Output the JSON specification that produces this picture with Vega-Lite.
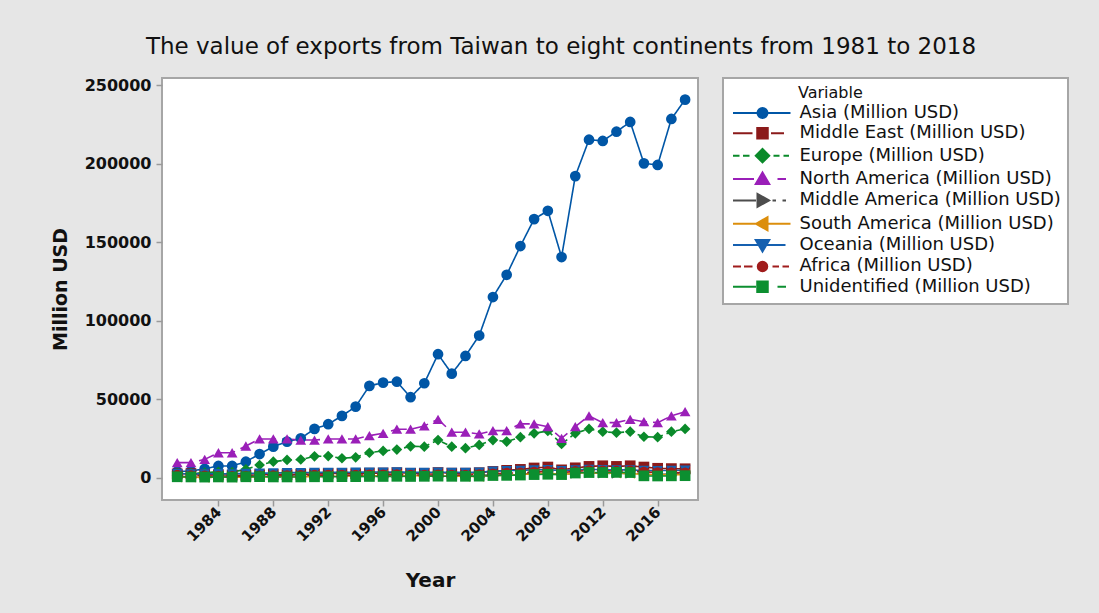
{
  "$schema": "https://vega.github.io/schema/vega-lite/v6.json",
  "width": 536,
  "height": 422,
  "autosize": {"type": "none"},
  "padding": {"left": 162, "top": 78, "right": 401, "bottom": 113},
  "background": "#e6e6e6",
  "title": {
    "text": "The value of exports from Taiwan to eight continents from 1981 to 2018",
    "font": "DejaVu Sans",
    "fontSize": 23,
    "fontWeight": "normal",
    "color": "#111111",
    "anchor": "middle",
    "frame": "group",
    "dx": 131,
    "offset": 18
  },
  "data": {
    "values": [
      {"Year": 1981, "Asia (Million USD)": 4000, "Middle East (Million USD)": 2400, "Europe (Million USD)": 3000, "North America (Million USD)": 9600, "Middle America (Million USD)": 800, "South America (Million USD)": 400, "Oceania (Million USD)": 2600, "Africa (Million USD)": 1600, "Unidentified  (Million USD)": 600},
      {"Year": 1982, "Asia (Million USD)": 4200, "Middle East (Million USD)": 2600, "Europe (Million USD)": 2800, "North America (Million USD)": 9600, "Middle America (Million USD)": 700, "South America (Million USD)": 300, "Oceania (Million USD)": 2500, "Africa (Million USD)": 1400, "Unidentified  (Million USD)": 500},
      {"Year": 1983, "Asia (Million USD)": 5700, "Middle East (Million USD)": 2100, "Europe (Million USD)": 3200, "North America (Million USD)": 11700, "Middle America (Million USD)": 600, "South America (Million USD)": 200, "Oceania (Million USD)": 2400, "Africa (Million USD)": 1200, "Unidentified  (Million USD)": 400},
      {"Year": 1984, "Asia (Million USD)": 7500, "Middle East (Million USD)": 1800, "Europe (Million USD)": 3800, "North America (Million USD)": 15900, "Middle America (Million USD)": 700, "South America (Million USD)": 300, "Oceania (Million USD)": 2600, "Africa (Million USD)": 1000, "Unidentified  (Million USD)": 500},
      {"Year": 1985, "Asia (Million USD)": 7500, "Middle East (Million USD)": 1600, "Europe (Million USD)": 3500, "North America (Million USD)": 15900, "Middle America (Million USD)": 600, "South America (Million USD)": 300, "Oceania (Million USD)": 2500, "Africa (Million USD)": 900, "Unidentified  (Million USD)": 400},
      {"Year": 1986, "Asia (Million USD)": 10200, "Middle East (Million USD)": 1500, "Europe (Million USD)": 5400, "North America (Million USD)": 20200, "Middle America (Million USD)": 700, "South America (Million USD)": 400, "Oceania (Million USD)": 2700, "Africa (Million USD)": 1000, "Unidentified  (Million USD)": 600},
      {"Year": 1987, "Asia (Million USD)": 15100, "Middle East (Million USD)": 1900, "Europe (Million USD)": 8100, "North America (Million USD)": 24700, "Middle America (Million USD)": 900, "South America (Million USD)": 500, "Oceania (Million USD)": 2900, "Africa (Million USD)": 1200, "Unidentified  (Million USD)": 700},
      {"Year": 1988, "Asia (Million USD)": 19800, "Middle East (Million USD)": 2100, "Europe (Million USD)": 10200, "North America (Million USD)": 24700, "Middle America (Million USD)": 1000, "South America (Million USD)": 600, "Oceania (Million USD)": 3000, "Africa (Million USD)": 1300, "Unidentified  (Million USD)": 500},
      {"Year": 1989, "Asia (Million USD)": 23000, "Middle East (Million USD)": 2000, "Europe (Million USD)": 11300, "North America (Million USD)": 24700, "Middle America (Million USD)": 1000, "South America (Million USD)": 600, "Oceania (Million USD)": 3200, "Africa (Million USD)": 1400, "Unidentified  (Million USD)": 500},
      {"Year": 1990, "Asia (Million USD)": 25100, "Middle East (Million USD)": 2200, "Europe (Million USD)": 11600, "North America (Million USD)": 24000, "Middle America (Million USD)": 1100, "South America (Million USD)": 600, "Oceania (Million USD)": 3300, "Africa (Million USD)": 1500, "Unidentified  (Million USD)": 500},
      {"Year": 1991, "Asia (Million USD)": 31100, "Middle East (Million USD)": 2400, "Europe (Million USD)": 13600, "North America (Million USD)": 24000, "Middle America (Million USD)": 1200, "South America (Million USD)": 800, "Oceania (Million USD)": 3400, "Africa (Million USD)": 1600, "Unidentified  (Million USD)": 600},
      {"Year": 1992, "Asia (Million USD)": 34100, "Middle East (Million USD)": 2700, "Europe (Million USD)": 13800, "North America (Million USD)": 24700, "Middle America (Million USD)": 1300, "South America (Million USD)": 900, "Oceania (Million USD)": 3400, "Africa (Million USD)": 1700, "Unidentified  (Million USD)": 600},
      {"Year": 1993, "Asia (Million USD)": 39400, "Middle East (Million USD)": 2700, "Europe (Million USD)": 12400, "North America (Million USD)": 24700, "Middle America (Million USD)": 1300, "South America (Million USD)": 1000, "Oceania (Million USD)": 3400, "Africa (Million USD)": 1700, "Unidentified  (Million USD)": 700},
      {"Year": 1994, "Asia (Million USD)": 45300, "Middle East (Million USD)": 2600, "Europe (Million USD)": 13000, "North America (Million USD)": 24700, "Middle America (Million USD)": 1300, "South America (Million USD)": 1100, "Oceania (Million USD)": 3500, "Africa (Million USD)": 1600, "Unidentified  (Million USD)": 700},
      {"Year": 1995, "Asia (Million USD)": 58500, "Middle East (Million USD)": 2900, "Europe (Million USD)": 15900, "North America (Million USD)": 26800, "Middle America (Million USD)": 1500, "South America (Million USD)": 1300, "Oceania (Million USD)": 3600, "Africa (Million USD)": 1800, "Unidentified  (Million USD)": 800},
      {"Year": 1996, "Asia (Million USD)": 60600, "Middle East (Million USD)": 3000, "Europe (Million USD)": 17100, "North America (Million USD)": 28300, "Middle America (Million USD)": 1500, "South America (Million USD)": 1300, "Oceania (Million USD)": 3600, "Africa (Million USD)": 1800, "Unidentified  (Million USD)": 800},
      {"Year": 1997, "Asia (Million USD)": 61200, "Middle East (Million USD)": 3200, "Europe (Million USD)": 17900, "North America (Million USD)": 30900, "Middle America (Million USD)": 1700, "South America (Million USD)": 1500, "Oceania (Million USD)": 3700, "Africa (Million USD)": 1900, "Unidentified  (Million USD)": 900},
      {"Year": 1998, "Asia (Million USD)": 51300, "Middle East (Million USD)": 2800, "Europe (Million USD)": 20000, "North America (Million USD)": 30900, "Middle America (Million USD)": 1600, "South America (Million USD)": 1400, "Oceania (Million USD)": 3400, "Africa (Million USD)": 1700, "Unidentified  (Million USD)": 800},
      {"Year": 1999, "Asia (Million USD)": 60200, "Middle East (Million USD)": 2800, "Europe (Million USD)": 19800, "North America (Million USD)": 33000, "Middle America (Million USD)": 1500, "South America (Million USD)": 1000, "Oceania (Million USD)": 3400, "Africa (Million USD)": 1700, "Unidentified  (Million USD)": 900},
      {"Year": 2000, "Asia (Million USD)": 78700, "Middle East (Million USD)": 3300, "Europe (Million USD)": 24000, "North America (Million USD)": 37200, "Middle America (Million USD)": 1700, "South America (Million USD)": 1200, "Oceania (Million USD)": 3600, "Africa (Million USD)": 1800, "Unidentified  (Million USD)": 1000},
      {"Year": 2001, "Asia (Million USD)": 66300, "Middle East (Million USD)": 2900, "Europe (Million USD)": 19800, "North America (Million USD)": 29000, "Middle America (Million USD)": 1500, "South America (Million USD)": 1000, "Oceania (Million USD)": 3400, "Africa (Million USD)": 1600, "Unidentified  (Million USD)": 900},
      {"Year": 2002, "Asia (Million USD)": 77600, "Middle East (Million USD)": 2900, "Europe (Million USD)": 18800, "North America (Million USD)": 29000, "Middle America (Million USD)": 1400, "South America (Million USD)": 800, "Oceania (Million USD)": 3400, "Africa (Million USD)": 1700, "Unidentified  (Million USD)": 900},
      {"Year": 2003, "Asia (Million USD)": 90600, "Middle East (Million USD)": 3200, "Europe (Million USD)": 20900, "North America (Million USD)": 27900, "Middle America (Million USD)": 1500, "South America (Million USD)": 900, "Oceania (Million USD)": 3500, "Africa (Million USD)": 2000, "Unidentified  (Million USD)": 1000},
      {"Year": 2004, "Asia (Million USD)": 115100, "Middle East (Million USD)": 4000, "Europe (Million USD)": 24000, "North America (Million USD)": 30000, "Middle America (Million USD)": 1900, "South America (Million USD)": 1300, "Oceania (Million USD)": 4200, "Africa (Million USD)": 2500, "Unidentified  (Million USD)": 1400},
      {"Year": 2005, "Asia (Million USD)": 129300, "Middle East (Million USD)": 4700, "Europe (Million USD)": 23000, "North America (Million USD)": 30000, "Middle America (Million USD)": 2100, "South America (Million USD)": 1600, "Oceania (Million USD)": 4500, "Africa (Million USD)": 2900, "Unidentified  (Million USD)": 1500},
      {"Year": 2006, "Asia (Million USD)": 147600, "Middle East (Million USD)": 5300, "Europe (Million USD)": 25800, "North America (Million USD)": 34300, "Middle America (Million USD)": 2300, "South America (Million USD)": 2000, "Oceania (Million USD)": 4700, "Africa (Million USD)": 3100, "Unidentified  (Million USD)": 1700},
      {"Year": 2007, "Asia (Million USD)": 164800, "Middle East (Million USD)": 6200, "Europe (Million USD)": 28300, "North America (Million USD)": 34300, "Middle America (Million USD)": 2600, "South America (Million USD)": 2500, "Oceania (Million USD)": 5000, "Africa (Million USD)": 3600, "Unidentified  (Million USD)": 2000},
      {"Year": 2008, "Asia (Million USD)": 170100, "Middle East (Million USD)": 6800, "Europe (Million USD)": 29800, "North America (Million USD)": 32500, "Middle America (Million USD)": 2800, "South America (Million USD)": 3000, "Oceania (Million USD)": 5100, "Africa (Million USD)": 4100, "Unidentified  (Million USD)": 2200},
      {"Year": 2009, "Asia (Million USD)": 140600, "Middle East (Million USD)": 5000, "Europe (Million USD)": 21500, "North America (Million USD)": 25100, "Middle America (Million USD)": 2100, "South America (Million USD)": 2000, "Oceania (Million USD)": 4500, "Africa (Million USD)": 3200, "Unidentified  (Million USD)": 2000},
      {"Year": 2010, "Asia (Million USD)": 192200, "Middle East (Million USD)": 6300, "Europe (Million USD)": 28300, "North America (Million USD)": 32500, "Middle America (Million USD)": 2700, "South America (Million USD)": 3000, "Oceania (Million USD)": 5000, "Africa (Million USD)": 4100, "Unidentified  (Million USD)": 3000},
      {"Year": 2011, "Asia (Million USD)": 215400, "Middle East (Million USD)": 7200, "Europe (Million USD)": 31100, "North America (Million USD)": 39400, "Middle America (Million USD)": 3000, "South America (Million USD)": 3200, "Oceania (Million USD)": 5300, "Africa (Million USD)": 4600, "Unidentified  (Million USD)": 3300},
      {"Year": 2012, "Asia (Million USD)": 214600, "Middle East (Million USD)": 7600, "Europe (Million USD)": 29300, "North America (Million USD)": 35100, "Middle America (Million USD)": 2900, "South America (Million USD)": 3000, "Oceania (Million USD)": 5200, "Africa (Million USD)": 4400, "Unidentified  (Million USD)": 3300},
      {"Year": 2013, "Asia (Million USD)": 220500, "Middle East (Million USD)": 7200, "Europe (Million USD)": 28700, "North America (Million USD)": 35100, "Middle America (Million USD)": 2700, "South America (Million USD)": 2900, "Oceania (Million USD)": 5000, "Africa (Million USD)": 4200, "Unidentified  (Million USD)": 3400},
      {"Year": 2014, "Asia (Million USD)": 226700, "Middle East (Million USD)": 7600, "Europe (Million USD)": 29300, "North America (Million USD)": 37200, "Middle America (Million USD)": 2800, "South America (Million USD)": 2700, "Oceania (Million USD)": 5000, "Africa (Million USD)": 4400, "Unidentified  (Million USD)": 3300},
      {"Year": 2015, "Asia (Million USD)": 200300, "Middle East (Million USD)": 6800, "Europe (Million USD)": 26100, "North America (Million USD)": 35700, "Middle America (Million USD)": 2500, "South America (Million USD)": 2100, "Oceania (Million USD)": 4600, "Africa (Million USD)": 3600, "Unidentified  (Million USD)": 1200},
      {"Year": 2016, "Asia (Million USD)": 199300, "Middle East (Million USD)": 6000, "Europe (Million USD)": 25800, "North America (Million USD)": 35100, "Middle America (Million USD)": 2200, "South America (Million USD)": 1800, "Oceania (Million USD)": 4500, "Africa (Million USD)": 3300, "Unidentified  (Million USD)": 1100},
      {"Year": 2017, "Asia (Million USD)": 228600, "Middle East (Million USD)": 5800, "Europe (Million USD)": 29300, "North America (Million USD)": 39400, "Middle America (Million USD)": 2300, "South America (Million USD)": 1900, "Oceania (Million USD)": 4700, "Africa (Million USD)": 3300, "Unidentified  (Million USD)": 1200},
      {"Year": 2018, "Asia (Million USD)": 240900, "Middle East (Million USD)": 5700, "Europe (Million USD)": 31100, "North America (Million USD)": 42100, "Middle America (Million USD)": 2400, "South America (Million USD)": 1900, "Oceania (Million USD)": 4800, "Africa (Million USD)": 3100, "Unidentified  (Million USD)": 1300}
    ]
  },
  "transform": [
    {"fold": ["Asia (Million USD)", "Middle East (Million USD)", "Europe (Million USD)", "North America (Million USD)", "Middle America (Million USD)", "South America (Million USD)", "Oceania (Million USD)", "Africa (Million USD)", "Unidentified  (Million USD)"], "as": ["Variable", "Value"]}
  ],
  "encoding": {
    "x": {
      "field": "Year", "type": "quantitative",
      "scale": {"domain": [1979.89, 2018.94], "nice": false, "zero": false},
      "axis": {"values": [1984, 1988, 1992, 1996, 2000, 2004, 2008, 2012, 2016], "format": "d", "labelAngle": -45, "labelAlign": "right", "labelBaseline": "middle", "labelPadding": 3, "title": "Year", "titlePadding": 26, "titleFontSize": 20}
    },
    "y": {
      "field": "Value", "type": "quantitative",
      "scale": {"domain": [-14200, 254700], "nice": false, "zero": false},
      "axis": {"values": [0, 50000, 100000, 150000, 200000, 250000], "format": "d", "labelPadding": 5, "labelFontSize": 16, "title": "Million USD", "titlePadding": 14, "titleFontSize": 19}
    }
  },
  "layer": [
    {
      "mark": {"type": "line", "strokeWidth": 1.6},
      "encoding": {
        "color": {"field": "Variable", "type": "nominal", "legend": null,
          "scale": {"domain": ["Asia (Million USD)", "Middle East (Million USD)", "Europe (Million USD)", "North America (Million USD)", "Middle America (Million USD)", "South America (Million USD)", "Oceania (Million USD)", "Africa (Million USD)", "Unidentified  (Million USD)"],
                    "range": ["#0056a6", "#8b1a1a", "#0a8a2a", "#9a1fb8", "#4d4d4d", "#dc8e0c", "#1560b0", "#a01c1c", "#0c8f30"]}},
        "strokeDash": {"field": "Variable", "type": "nominal", "legend": null,
          "scale": {"domain": ["Asia (Million USD)", "Middle East (Million USD)", "Europe (Million USD)", "North America (Million USD)", "Middle America (Million USD)", "South America (Million USD)", "Oceania (Million USD)", "Africa (Million USD)", "Unidentified  (Million USD)"],
                    "range": [[1, 0], [1, 0], [6, 4], [16, 6], [12, 4, 3, 4], [1, 0], [1, 0], [6, 4], [16, 6]]}}
      }
    },
    {
      "mark": {"type": "point", "filled": true, "opacity": 1, "strokeWidth": 0},
      "encoding": {
        "color": {"field": "Variable", "type": "nominal", "legend": null},
        "shape": {"field": "Variable", "type": "nominal", "legend": null,
          "scale": {"domain": ["Asia (Million USD)", "Middle East (Million USD)", "Europe (Million USD)", "North America (Million USD)", "Middle America (Million USD)", "South America (Million USD)", "Oceania (Million USD)", "Africa (Million USD)", "Unidentified  (Million USD)"],
                    "range": ["circle", "square", "diamond", "triangle-up", "triangle-right", "triangle-left", "triangle-down", "circle", "square"]}},
        "size": {"field": "Variable", "type": "nominal", "legend": null,
          "scale": {"domain": ["Asia (Million USD)", "Middle East (Million USD)", "Europe (Million USD)", "North America (Million USD)", "Middle America (Million USD)", "South America (Million USD)", "Oceania (Million USD)", "Africa (Million USD)", "Unidentified  (Million USD)"],
                    "range": [115, 115, 170, 200, 180, 180, 180, 115, 115]}}
      }
    },
    {
      "transform": [{"filter": "datum.Year < 0"}],
      "mark": {"type": "point", "filled": true, "opacity": 1, "strokeWidth": 2},
      "encoding": {
        "fill": {"field": "Variable", "type": "nominal",
          "scale": {"domain": ["Asia (Million USD)", "Middle East (Million USD)", "Europe (Million USD)", "North America (Million USD)", "Middle America (Million USD)", "South America (Million USD)", "Oceania (Million USD)", "Africa (Million USD)", "Unidentified  (Million USD)"],
                    "range": ["#0056a6", "#8b1a1a", "#0a8a2a", "#9a1fb8", "#4d4d4d", "#dc8e0c", "#1560b0", "#a01c1c", "#0c8f30"]},
          "legend": {"title": "Variable", "orient": "none", "legendX": 561, "legendY": 0, "symbolSize": 100, "symbolOffset": 23.5, "labelOffset": 28, "symbolStrokeWidth": 2, "symbolOpacity": 1, "encode": {"title": {"update": {"dx": {"value": 68}}}}}},
        "stroke": {"field": "Variable", "type": "nominal",
          "scale": {"domain": ["Asia (Million USD)", "Middle East (Million USD)", "Europe (Million USD)", "North America (Million USD)", "Middle America (Million USD)", "South America (Million USD)", "Oceania (Million USD)", "Africa (Million USD)", "Unidentified  (Million USD)"],
                    "range": ["#0056a6", "#8b1a1a", "#0a8a2a", "#9a1fb8", "#4d4d4d", "#dc8e0c", "#1560b0", "#a01c1c", "#0c8f30"]},
          "legend": {"title": "Variable", "orient": "none", "legendX": 561, "legendY": 0, "symbolSize": 100, "symbolOffset": 23.5, "labelOffset": 28, "symbolStrokeWidth": 2, "symbolOpacity": 1, "encode": {"title": {"update": {"dx": {"value": 68}}}}}},
        "shape": {"field": "Variable", "type": "nominal",
          "scale": {"domain": ["Asia (Million USD)", "Middle East (Million USD)", "Europe (Million USD)", "North America (Million USD)", "Middle America (Million USD)", "South America (Million USD)", "Oceania (Million USD)", "Africa (Million USD)", "Unidentified  (Million USD)"],
                    "range": [
                      "M-5.9,0H5.6M1,0A1,1,0,1,1,-1,0A1,1,0,1,1,1,0Z",
                      "M-5.9,0H-2M1.7,0H4.3M-1.05,-1.05H1.05V1.05H-1.05Z",
                      "M-5.9,0H-4.6M-3.9,0H-2.6M2.2,0H3.4M4.2,0H5.3M0,-1.35L1.35,0L0,1.35L-1.35,0Z",
                      "M-5.9,0H-1.7M3,0H4.7M0,-1.3L1.35,1L-1.35,1Z",
                      "M-5.9,0H-1.3M2,0H2.7M4,0H4.7M1.3,0L-1,-1.3L-1,1.3Z",
                      "M-5.9,0H5.6M-1.3,0L1,-1.3L1,1.3Z",
                      "M-5.9,0H4.6M0,1.3L1.35,-1L-1.35,-1Z",
                      "M-5.9,0H-4.3M-3.7,0H-2M2,0H3.3M4,0H5.3M0.95,0A0.95,0.95,0,1,1,-0.95,0A0.95,0.95,0,1,1,0.95,0Z",
                      "M-5.9,0H-1.3M3,0H4.7M-1.05,-1.05H1.05V1.05H-1.05Z"
                    ]},
          "legend": {"title": "Variable", "orient": "none", "legendX": 561, "legendY": 0, "symbolSize": 100, "symbolOffset": 23.5, "labelOffset": 28, "symbolStrokeWidth": 2, "symbolOpacity": 1, "encode": {"title": {"update": {"dx": {"value": 68}}}}}}
      }
    }
  ],
  "resolve": {"scale": {"shape": "independent", "fill": "independent", "stroke": "independent"}},
  "config": {
    "view": {"stroke": "#a6a6a6", "strokeWidth": 2, "fill": "#ffffff"},
    "axis": {
      "domain": false, "grid": false,
      "tickColor": "#9a9a9a", "tickSize": 6, "tickWidth": 1.5,
      "labelFont": "DejaVu Sans", "labelFontWeight": "bold", "labelFontSize": 15, "labelColor": "#111111",
      "titleFont": "DejaVu Sans", "titleFontWeight": "bold", "titleColor": "#111111"
    },
    "legend": {
      "fillColor": "#ffffff", "strokeColor": "#a6a6a6", "strokeWidth": 2, "padding": 7, "cornerRadius": 0,
      "labelFont": "DejaVu Sans", "labelFontSize": 18, "labelColor": "#111111", "labelLimit": 400,
      "titleFont": "DejaVu Sans", "titleFontSize": 16, "titleFontWeight": "normal", "titleColor": "#111111", "titlePadding": 3,
      "rowPadding": 1.35
    }
  }
}
